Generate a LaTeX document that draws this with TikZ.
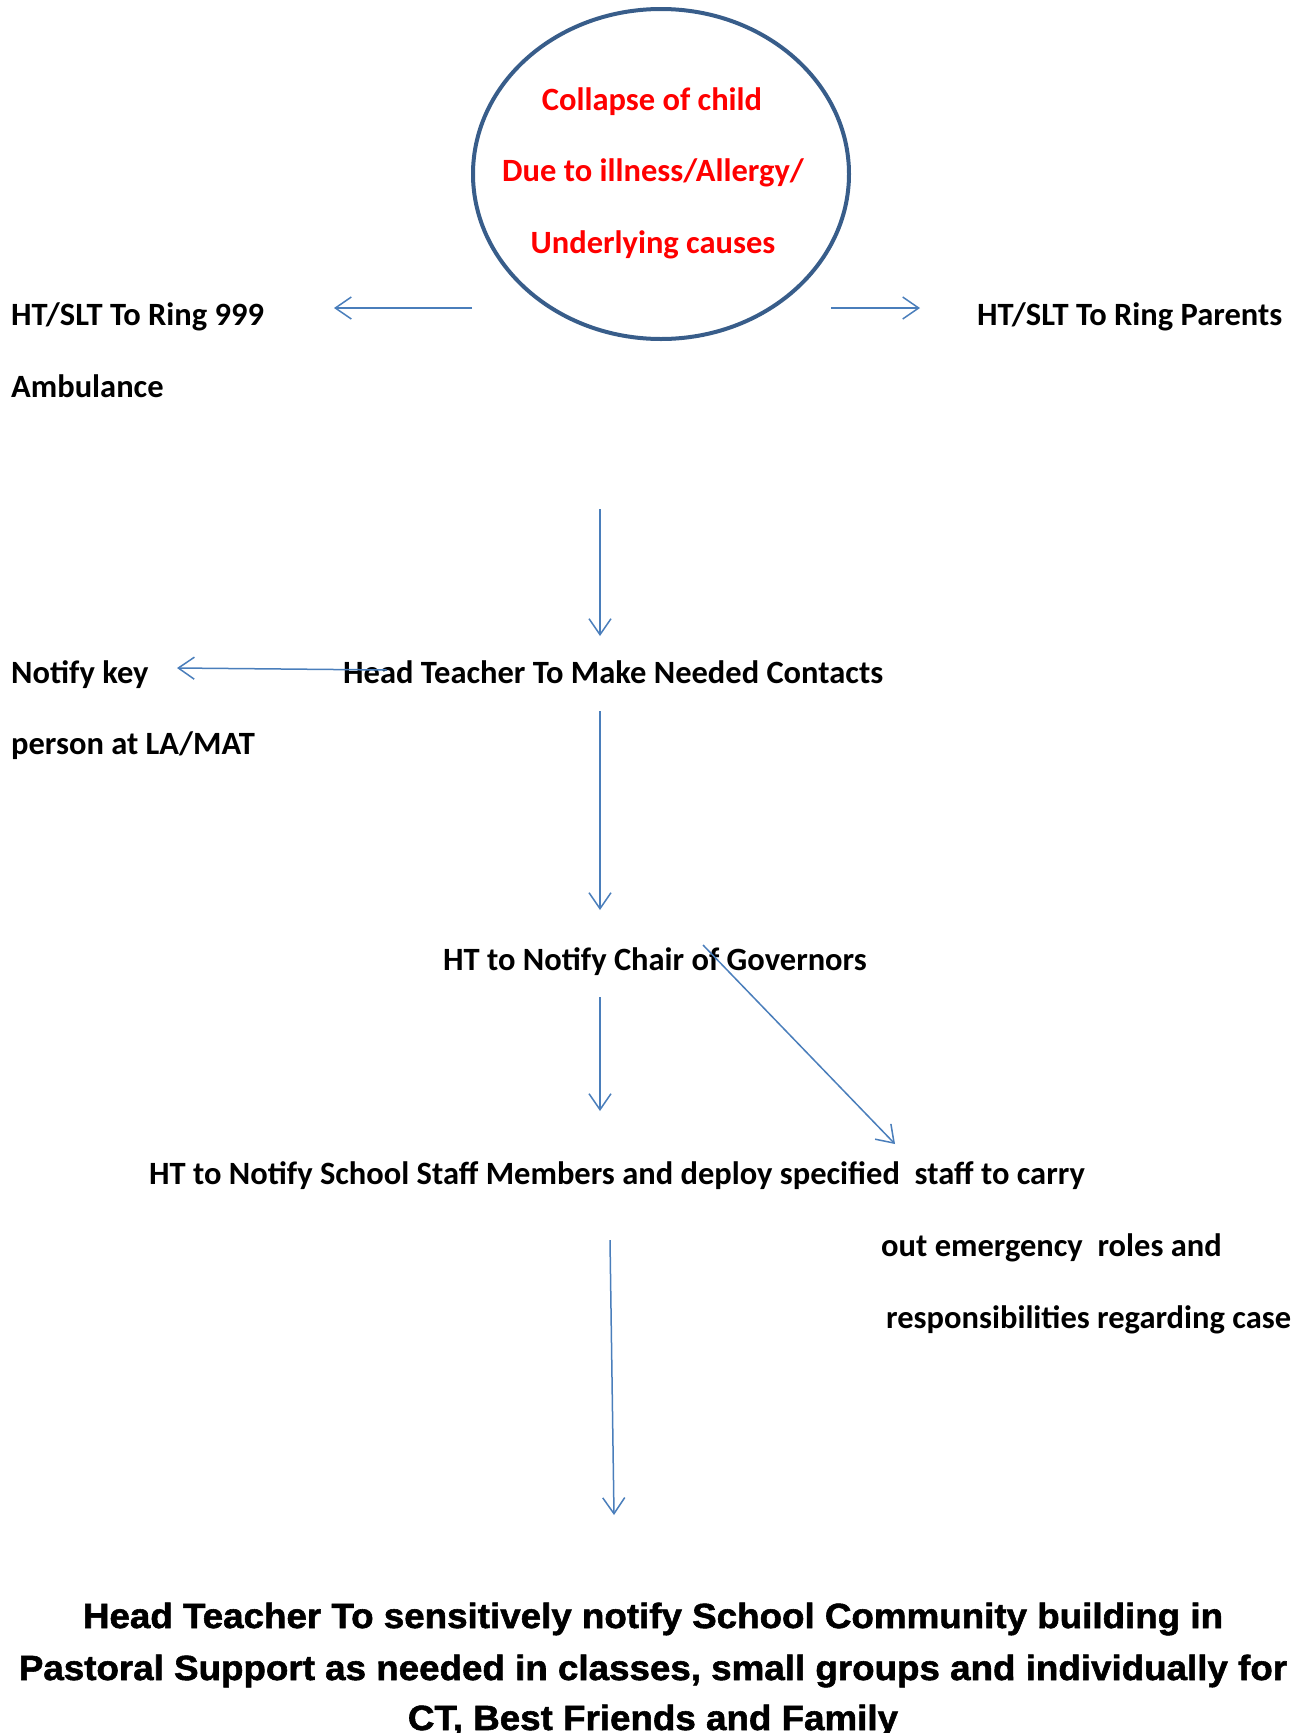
\documentclass[tikz,border=0pt]{standalone}
\usepackage{fontspec}
\setmainfont{Carlito}
\newfontfamily\blackfont[BoldFeatures={FakeBold=1.6,FakeStretch=1.05}]{Liberation Sans}
\usetikzlibrary{arrows.meta,shapes.geometric}
\definecolor{arrowblue}{HTML}{4A7EBB}
\definecolor{ellblue}{HTML}{385D8A}
\definecolor{redtxt}{HTML}{FF0000}
\tikzset{
  lbl/.style={font=\fontsize{32.5}{32.5}\selectfont\bfseries, inner sep=0pt, anchor=base west},
  redlbl/.style={lbl, text=redtxt, anchor=base},
  bottomlbl/.style={font=\blackfont\bfseries\fontsize{35}{35}\selectfont, inner sep=0pt, anchor=base},
  conn/.style={draw=arrowblue, line width=1.5pt, -{Straight Barb[length=16pt,width=22pt]}},
}
\begin{document}
\begin{tikzpicture}[x=1pt,y=-1pt]
\useasboundingbox (0,0) rectangle (1299,1733);
% central ellipse
\node[draw=ellblue, line width=4pt, ellipse, minimum width=376pt, minimum height=330pt, inner sep=0pt] (circ) at (661,174) {};
\node[redlbl] (r1) at (652,110) {Collapse of child};
\node[redlbl] (r2) at (653,181) {Due to illness/Allergy/};
\node[redlbl] (r3) at (653,253) {Underlying causes};
% side labels
\node[lbl] (ring999) at (11,325) {HT/SLT To Ring 999};
\node[lbl] (amb) at (11,397) {Ambulance};
\node[lbl] (parents) at (977,325) {HT/SLT To Ring Parents};
% middle column
\node[lbl] (head) at (343,683) {Head Teacher To Make Needed Contacts};
\node[lbl] (notify) at (11,683) {Notify key};
\node[lbl] (person) at (11,754) {person at LA/MAT};
\node[lbl] (chair) at (443,970) {HT to Notify Chair of Governors};
\node[lbl] (staff) at (149,1184) {HT to Notify School Staff Members and deploy specified\ \ staff to carry};
\node[lbl] (out) at (881,1256) {out emergency\ \ roles and};
\node[lbl] (resp) at (886,1328) {responsibilities regarding case};
% bottom text
\node[bottomlbl] (b1) at (653,1628) {Head Teacher To sensitively notify School Community building in};
\node[bottomlbl] (b2) at (653,1680) {Pastoral Support as needed in classes, small groups and individually for};
\node[bottomlbl] (b3) at (653,1730) {CT, Best Friends and Family};
% connector end points
\coordinate (la) at (472,308);
\coordinate (lb) at (334,308);
\coordinate (ra) at (831,308);
\coordinate (rb) at (920,308);
\coordinate (d1a) at (600,509);
\coordinate (d1b) at (600,636);
\coordinate (ka) at (387,670);
\coordinate (kb) at (177,668);
\coordinate (d2a) at (600,711);
\coordinate (d2b) at (600,910);
\coordinate (ga) at (703,945);
\coordinate (gb) at (895,1144);
\coordinate (d3a) at (600,997);
\coordinate (d3b) at (600,1111);
\coordinate (d4a) at (610,1240);
\coordinate (d4b) at (614,1515);
% connectors
\draw[conn] (la) -- (lb);
\draw[conn] (ra) -- (rb);
\draw[conn] (d1a) -- (d1b);
\draw[conn] (ka) -- (kb);
\draw[conn] (d2a) -- (d2b);
\draw[conn] (ga) -- (gb);
\draw[conn] (d3a) -- (d3b);
\draw[conn] (d4a) -- (d4b);
\end{tikzpicture}
\end{document}
